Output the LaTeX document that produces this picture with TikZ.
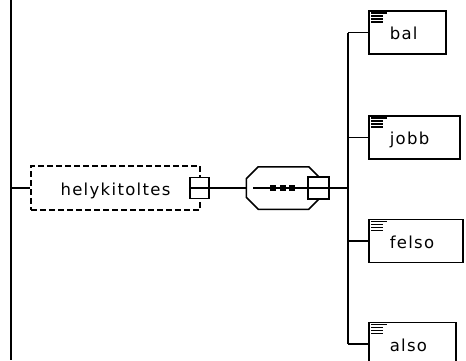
\documentclass[tikz,border=0pt]{standalone}
\usepackage{fontspec}
\setmainfont{DejaVu Sans}[LetterSpace=8]
\usetikzlibrary{shapes,arrows,positioning,calc}

\begin{document}
\begin{tikzpicture}[x=1pt, y=-1pt, line width=1.5pt, node distance=20pt]
        \tikzstyle{lbl} = [inner sep=0pt, text height=14pt, text depth=0pt, font=\fontsize{16.5}{18}\selectfont]
        \tikzstyle{elem} = [rectangle, draw, fill=white, minimum height=43pt, inner sep=0pt, anchor=west]
        \tikzstyle{minusbox} = [rectangle, draw, fill=white, inner sep=0pt]
        \tikzstyle{dotsq} = [rectangle, fill=black, inner sep=0pt, minimum width=6pt, minimum height=6pt]
        \useasboundingbox (0,0) rectangle (466,360);

        % Parent
        \coordinate (ltop) at (11,0);
        \coordinate (lbot) at (11,360);
        \draw (ltop) -- (lbot);

        % Group node
        \node [lbl, rectangle, draw, dashed, dash pattern=on 6pt off 3pt, minimum width=169pt, minimum height=44pt] (hely) at (115.5,188) {helykitoltes\hspace{7pt}};
        \node [minusbox, minimum width=19pt, minimum height=21pt] (hminus) at (199.5,188) {};
        \draw [shorten <=2pt, shorten >=2pt] (hminus.west) -- (hminus.east);
        \draw (hely.west -| ltop) -- (hely.west);

        % Sequence (octagon)
        \node [rectangle, inner sep=0pt, minimum width=73pt, minimum height=41pt] (seq) at (283.5,188) {};
        \draw ($(seq.north west)+(0,12)$) -- ($(seq.north west)+(12,0)$) -- ($(seq.north east)+(-12,0)$)
              -- ($(seq.north east)+(0,12)$) -- ($(seq.south east)+(0,-12)$) -- ($(seq.south east)+(-12,0)$)
              -- ($(seq.south west)+(12,0)$) -- ($(seq.south west)+(0,-12)$) -- cycle;
        \node [minusbox, minimum width=21pt, minimum height=22pt] (sminus) at (318.5,188) {};
        \draw ([xshift=7pt]seq.west) -- (sminus.west);
        \draw [shorten <=2pt, shorten >=2pt] (sminus.west) -- (sminus.east);
        \foreach \x in {273,282.5,292}
            \node [dotsq] (dot\x) at (\x,188) {};
        \draw (hminus.east) -- (seq.west);

        % Elements
        \coordinate (bus) at (348,188);
        \foreach \name/\y/\w in {bal/32.5/77, jobb/137.5/91, felso/241/94, also/344/87} {
            \node [elem, minimum width=\w pt] (\name) at (368,\y) {};
            \node [lbl, right=21pt of \name.west] (\name-txt) {\name};
            \draw ($(\name.north west)+(3,2.5)$) -- ++(16,0);
            \foreach \k in {1,2,3}
                \draw ($(\name.north west)+(3,2.5+3*\k)$) -- ++(12,0);
            \draw (\name.west -| bus) -- (\name.west);
        }
        \draw (bal.west -| bus) -- (also.west -| bus);
        \draw (sminus.east) -- (bus);
    \end{tikzpicture}
\end{document}
